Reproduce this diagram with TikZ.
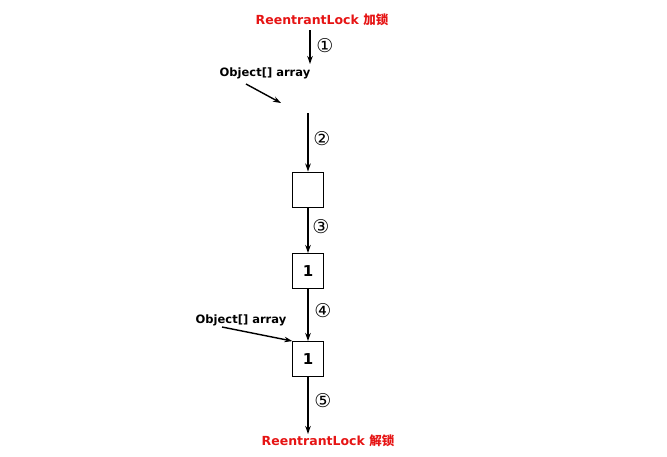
\documentclass[tikz,border=0pt]{standalone}
\usepackage{fontspec}
\setmainfont{DejaVu Sans}
\newfontfamily\cjk{Noto Sans CJK SC}
\newfontfamily\circfont{DejaVu Sans}
\usetikzlibrary{arrows.meta}
\definecolor{lockred}{RGB}{230,20,20}
\begin{document}
\begin{tikzpicture}[x=1pt,y=-1pt,
  lbl/.style={font=\bfseries\fontsize{11.5}{13}\selectfont, inner sep=0pt},
  redlbl/.style={font=\bfseries\fontsize{12.5}{14}\selectfont, text=lockred, inner sep=0pt},
  num/.style={font=\circfont\fontsize{19}{19}\selectfont, inner sep=0pt},
  cell/.style={draw, line width=0.9pt, minimum width=30.5pt, minimum height=35pt, inner sep=0pt, font=\bfseries\fontsize{15}{16}\selectfont},
  arr/.style={line width=1.4pt, -{Stealth[length=8pt,width=5.5pt]}}]
\useasboundingbox (0,0) rectangle (667,456);
\fill[white] (0,0) rectangle (667,456);
\node[redlbl] (lock) at (322,20) {ReentrantLock {\cjk 加锁}};
\node[lbl] (obj1) at (265,73) {Object[] array};
\node[cell] (b1) at (308,189.5) {};
\node[cell] (b2) at (308,271) {1};
\node[cell] (b3) at (308,359) {1};
\node[lbl] (obj2) at (241,320) {Object[] array};
\node[redlbl] (unlock) at (328,441) {ReentrantLock {\cjk 解锁}};
\coordinate (a1s) at (310,30);
\coordinate (a1e) at (310,64);
\coordinate (d1s) at (246,84);
\coordinate (d1e) at (281,103);
\coordinate (v2s) at (308,113);
\coordinate (d2s) at (222,327);
\coordinate (u5e) at (308,434);
\draw[arr] (a1s) -- (a1e);
\draw[arr] (d1s) -- (d1e);
\draw[arr] (v2s) -- (b1.north);
\draw[arr] (b1.south) -- (b2.north);
\draw[arr] (b2.south) -- (b3.north);
\draw[arr] (d2s) -- (b3.north west);
\draw[arr] (b3.south) -- (u5e);
\node[num] (n1) at (325,46) {①};
\node[num] (n2) at (322,139) {②};
\node[num] (n3) at (321,227) {③};
\node[num] (n4) at (323,311) {④};
\node[num] (n5) at (323,401) {⑤};
\end{tikzpicture}
\end{document}
